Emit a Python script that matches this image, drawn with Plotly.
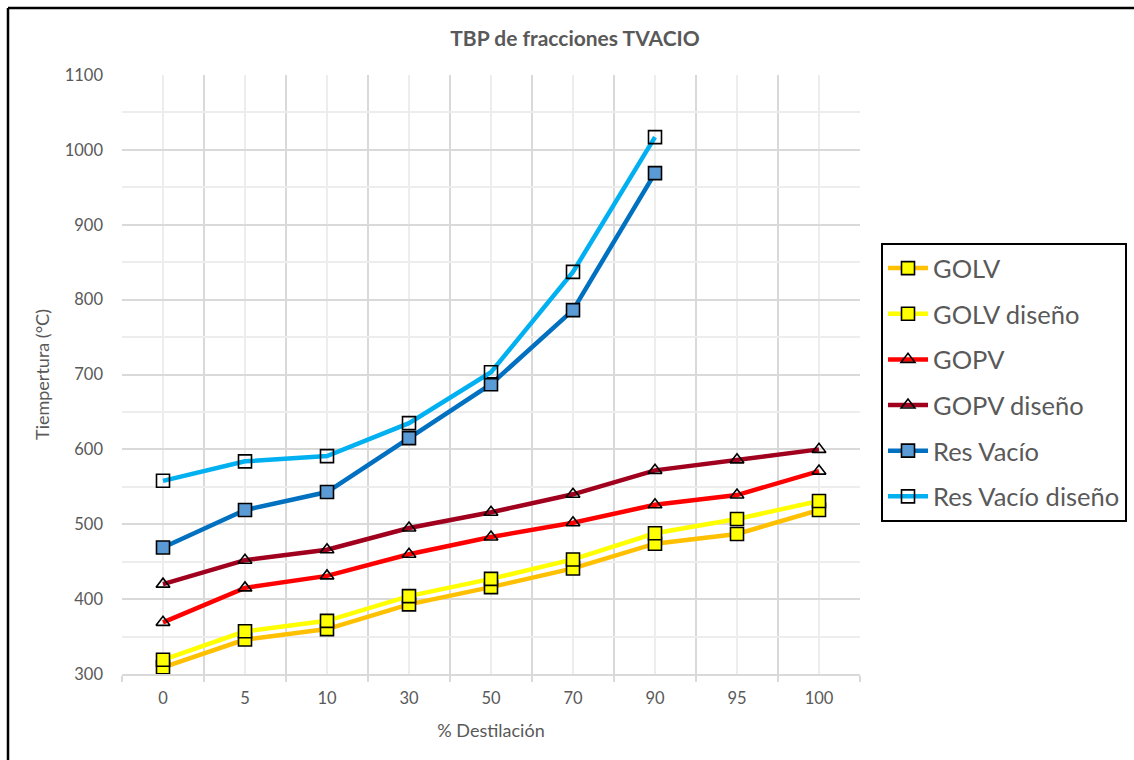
import plotly.graph_objects as go

# % destilado (categorías del eje X)
categories = ["0", "5", "10", "30", "50", "70", "90", "95", "100"]

# Temperaturas TBP (°C)
golv = [309, 346, 360, 393, 416, 441, 474, 487, 519]
golv_diseno = [319, 357, 371, 404, 427, 453, 488, 507, 531]
gopv = [369, 415, 431, 460, 483, 502, 526, 539, 571]
gopv_diseno = [420, 452, 466, 495, 516, 540, 572, 586, 600]
res_vacio = [469, 519, 543, 615, 687, 786, 969, None, None]
res_vacio_diseno = [558, 584, 591, 635, 703, 837, 1017, None, None]

W, H = 1134, 760
ML, MR, MT, MB = 122, 274, 75, 86
TXT = "#595959"
FONT = "Lato"

idx = list(range(len(categories)))

series = [
    ("GOLV", golv, "#FFC000", "square", "#FFFF00", 13),
    ("GOLV diseño", golv_diseno, "#FFFF00", "square", "#FFFF00", 13),
    ("GOPV", gopv, "#FF0000", "triangle-up-open", None, 12),
    ("GOPV diseño", gopv_diseno, "#A0001E", "triangle-up-open", None, 12),
    ("Res Vacío", res_vacio, "#0070C0", "square", "#5B9BD5", 13),
    ("Res Vacío diseño", res_vacio_diseno, "#00B0F0", "square-open", None, 13),
]

fig = go.Figure()
for name, vals, lc, sym, fill, size in series:
    marker = dict(symbol=sym, size=size, line=dict(color="#000000", width=1.6))
    marker["color"] = fill if fill is not None else "#000000"
    fig.add_trace(go.Scatter(
        x=idx, y=vals, name=name, mode="lines+markers",
        line=dict(color=lc, width=4.5),
        marker=marker, legendgroup=name,
    ))

pw = W - ML - MR
ph = H - MT - MB

def px_x(p):
    return (p - ML) / pw

def px_y(p):
    return (H - MB - p) / ph

fig.update_layout(
    width=W, height=H,
    margin=dict(l=ML, r=MR, t=MT, b=MB, autoexpand=False),
    paper_bgcolor="white", plot_bgcolor="white",
    font=dict(family=FONT, color=TXT, size=16),
    title=dict(text="<b>TBP de fracciones TVACIO</b>", x=575 / W, xanchor="center",
               y=1 - 39 / H, yanchor="middle", font=dict(size=21, color=TXT, family=FONT)),
    xaxis=dict(
        range=[-0.5, len(categories) - 0.5],
        tickmode="array", tickvals=idx, ticktext=categories,
        showgrid=True, gridcolor="#EDEDED", gridwidth=1.5,
        ticks="", showline=True, linecolor="#D9D9D9", linewidth=1.5,
        zeroline=False, ticklabelstandoff=8,
        tickfont=dict(size=16.5, color=TXT),
        minor=dict(tickmode="array", tickvals=[i - 0.5 for i in range(len(categories) + 1)],
                   showgrid=True, gridcolor="#D9D9D9", gridwidth=1.5,
                   ticks="outside", ticklen=6, tickcolor="#D9D9D9", tickwidth=1.5),
        title=dict(text="% Destilación", font=dict(size=18, color=TXT), standoff=18),
    ),
    yaxis=dict(
        range=[300, 1100], dtick=100, tick0=300,
        showgrid=True, gridcolor="#D9D9D9", gridwidth=1.5,
        zeroline=False, showline=False, ticks="",
        ticklabelstandoff=18,
        tickfont=dict(size=16.5, color=TXT),
        minor=dict(dtick=50, showgrid=True, gridcolor="#EDEDED", gridwidth=1.5),
        title=dict(text="Tiempertura (°C)", font=dict(size=18, color=TXT), standoff=10),
    ),
    legend=dict(
        x=px_x(881), xanchor="left", y=px_y(243), yanchor="top",
        bgcolor="white", bordercolor="#000000", borderwidth=2,
        font=dict(size=25.5, color=TXT, family=FONT),
        tracegroupgap=9.5, itemwidth=40,
    ),
    shapes=[
        dict(type="line", xref="paper", yref="paper",
             x0=px_x(8), x1=px_x(W + 2), y0=px_y(8), y1=px_y(8),
             line=dict(color="#000000", width=2.5)),
        dict(type="line", xref="paper", yref="paper",
             x0=px_x(8), x1=px_x(8), y0=px_y(8), y1=px_y(H + 2),
             line=dict(color="#000000", width=2.5)),
    ],
)

fig.write_html("out.html")
